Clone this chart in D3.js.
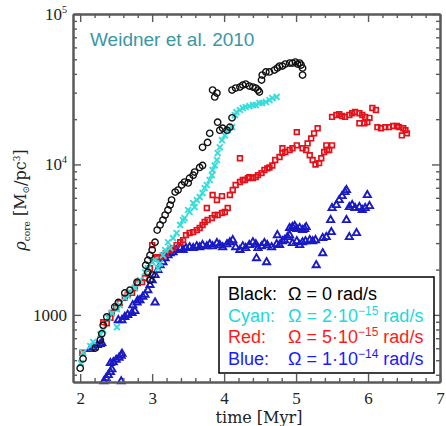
<!DOCTYPE html>
<html>
<head>
<meta charset="utf-8">
<script src="https://cdn.jsdelivr.net/npm/d3@7"></script>
<style>
  body { margin: 0; background: #fff; }
</style>
</head>
<body>
<div id="chart"></div>
<script>
// [time (Myr), rho_core (Msun/pc^3)]
const black = [
  [2.00,442],[2.04,511],[2.21,602],[2.28,680],[2.30,750],[2.32,854],[2.37,970],[2.48,1130],[2.53,1210],[2.62,1400],[2.69,1460],[2.79,1650],[2.94,1920],[2.97,1700],[3.00,1840],
  [2.91,2140],[2.94,2310],[2.97,2490],[3.00,2700],[3.04,3040],
  [3.07,3660],[3.11,3960],[3.15,4270],[3.18,4610],[3.22,4980],[3.25,5370],[3.27,5800],
  [3.32,6550],[3.36,6760],[3.41,7300],[3.45,7640],[3.50,7530],[3.52,8110],[3.57,8490],[3.59,8900],[3.66,9550],[3.70,9850],
  [3.70,13000],[3.77,14000],[3.80,16100],[3.91,19100],[3.94,16900],[3.98,17400],[4.04,16900],[4.08,17700],[4.11,20400],
  [3.84,31200],[3.87,28100],[3.90,29800],
  [4.11,31200],[4.16,32200],[4.22,32700],[4.26,33700],[4.30,34200],[4.35,33200],[4.40,32700],[4.44,32200],[4.47,31200],[4.49,30300],
  [4.52,36400],[4.53,39300],[4.58,41200],[4.63,41200],[4.70,42400],[4.74,43700],[4.77,45100],[4.81,45100],[4.85,46500],[4.91,47200],
  [4.95,47200],[4.99,47900],[5.02,46500],[5.05,47200],[5.07,45800],[5.09,43700],[5.09,39300]
]
const cyan = [
  [2.01,478],[2.04,560],[2.14,620],[2.18,660],[2.28,740],[2.32,792],[2.39,956],[2.44,1030],[2.51,828],[2.51,1090],[2.55,1160],
  [2.62,1300],[2.66,1340],[2.69,1420],[2.76,1510],[2.83,1700],[2.90,1920],[2.94,2040],[3.00,2240],[3.04,2310],[3.08,2040],[3.11,2200],
  [3.15,2490],[3.18,2700],[3.22,3040],[3.25,2780],[3.29,3240],[3.34,3500],[3.39,3960],[3.43,4270],[3.45,4400],[3.50,4980],[3.52,4830],
  [3.57,5540],[3.59,5210],[3.62,5800],[3.66,6070],[3.70,6450],[3.73,6970],[3.76,7300],[3.80,7880],[3.83,8490],[3.84,9180],[3.87,9850],
  [3.90,10700],[3.91,11900],[3.94,13000],[3.97,14500],[4.01,15600],[4.05,16900],[4.11,17700],
  [4.15,21300],[4.17,22300],[4.22,23000],[4.26,23700],[4.30,24100],[4.35,24400],[4.40,24800],[4.44,24800],[4.49,25600],[4.53,25600],
  [4.58,26000],[4.63,26800],[4.67,27600],[4.73,28100]
]
const red = [
  [2.03,560],[2.32,895],[2.37,880],[2.42,956],[2.44,1030],[2.50,1110],[2.55,1200],[2.62,1300],[2.66,1360],[2.72,1400],[2.76,1510],
  [2.80,1630],[2.86,1650],[2.90,1760],[2.94,1890],[2.97,2040],[3.00,2910],
  [3.04,2380],[3.07,2420],[3.11,2420],[3.15,2490],[3.19,2570],[3.25,2700],[3.29,2780],[3.34,2910],[3.39,3040],[3.43,3140],[3.47,3390],
  [3.52,3500],[3.57,3550],[3.62,3660],[3.66,3780],[3.70,3960],[3.73,4140],[3.77,4270],[3.83,4400],[3.87,4610],[3.91,4610],[3.97,4760],
  [4.01,4830],[4.05,5130],[3.76,5130],[3.84,6260],[3.90,5800],[3.97,6160],
  [4.08,6260],[4.12,6760],[4.16,7300],[4.22,7640],[4.22,11000],[4.26,7880],[4.29,7880],[4.33,8110],[4.35,8240],[4.40,8110],[4.44,8240],
  [4.47,8490],[4.52,8760],[4.56,9180],[4.60,9410],[4.63,9550],[4.67,9850],[4.71,10700],[4.77,11200],[4.81,11900],[4.81,12800],[4.85,12100],
  [4.91,12470],[4.95,12800],[5.01,13400],[5.01,16400],
  [5.09,12800],[5.14,12470],[5.19,11500],[5.23,10700],[5.27,10000],[5.32,10200],[5.35,11000],[5.39,12100],[5.43,12470],[5.46,12470],
  [5.42,13400],[5.50,13400],[5.16,13800],[5.21,14900],[5.25,16100],[5.30,17400],
  [5.50,20700],[5.56,21300],[5.60,21600],[5.64,21000],[5.68,20700],[5.74,21300],[5.78,21900],[5.82,22300],[5.88,21900],[5.92,21300],
  [5.96,20700],[6.02,20400],[5.88,18800],[5.95,18800],[5.99,19100],[6.06,23700],[6.11,23000],
  [6.13,17700],[6.18,17400],[6.24,17700],[6.29,17700],[6.35,18000],[6.40,18000],[6.43,17700],[6.49,17400],[6.52,16900],[6.54,16100],[6.47,15600]
]
const blue = [
  [2.33,362],[2.36,380],[2.39,398],[2.42,417],[2.44,435],[2.42,478],[2.46,485],[2.50,503],[2.54,519],[2.57,535],[2.58,552],[2.57,362],
  [2.14,593],[2.18,610],[2.24,630],[2.28,640],[2.30,650],
  [2.53,923],[2.58,923],[2.62,970],[2.66,1000],[2.72,1030],[2.76,1060],[2.80,1250],[2.73,1160],[2.79,1210],[2.83,1250],[2.87,1320],
  [2.90,1360],[2.94,1460],[2.97,1580],[3.00,1700],[3.04,1210],[3.04,1840],[3.08,1985],[3.11,2140],[3.15,2240],[3.18,2380],[3.22,2490],
  [3.25,2570],[3.29,2610],[3.34,2700],[3.39,2780],[3.43,2700],[3.47,2780],[3.52,2820],[3.57,2780],[3.62,2860],[3.66,2820],[3.70,2910],
  [3.76,2860],[3.80,2950],[3.84,2860],[3.90,3000],[3.94,2910],[3.98,2820],[4.04,2950],[4.08,3040],[4.12,3140],[4.16,2820],[4.22,2700],
  [4.26,2860],[4.30,2780],[4.35,2910],[4.40,3040],[4.44,2950],[4.47,2780],[4.52,2860],[4.56,3000],[4.60,2910],[4.66,2820],[4.45,2380],[4.59,2240],
  [4.73,2950],[4.77,2910],[4.81,3090],[4.84,3140],[4.88,3290],[4.91,3390],[4.74,3390],[4.91,3780],[4.95,3840],
  [4.98,3900],[5.01,3720],[5.05,3780],[5.09,3660],[5.12,3720],[5.14,3840],[4.95,3000],[5.01,3090],[5.05,2910],[5.09,3040],[5.13,3090],
  [5.19,3140],[5.23,3090],[5.27,3140],[5.28,2140],[5.37,2570],[5.37,3240],[5.42,3290],[5.49,3550],[5.48,4270],
  [5.50,5130],[5.56,5370],[5.60,5800],[5.64,6160],[5.68,6550],[5.70,6760],[5.70,4270],[5.74,3290],[5.84,3500],[5.74,5210],[5.78,5370],
  [5.82,5130],[5.88,5210],[5.92,4980],[5.96,5130],[6.02,5290],[5.99,6260]
]

const xTicks = [2, 3, 4, 5, 6, 7]
const yTicks = [1000, 10000, 100000]
const legendNames = ['Black:', 'Cyan:', 'Red:', 'Blue:']
const legendCoef = ['0', '2·10', '5·10', '1·10']
const legendExp = ['', '−15', '−15', '−14']
const title = 'Weidner et al. 2010'

function draw() {
  const dimensions = { width: 446, height: 426, left: 73, right: 440, top: 14, bottom: 382 }

  const svg = d3.select('#chart')
    .append('svg')
    .attr('width', dimensions.width)
    .attr('height', dimensions.height)

  const xScale = d3.scaleLinear().domain([1.9, 7.0]).range([dimensions.left, dimensions.right])
  const yScale = d3.scaleLog().domain([358, 1e5]).range([dimensions.bottom, dimensions.top])

  // minor ticks: 0.2 Myr steps, 2..9 per decade
  const xMinor = d3.range(20, 71, 2).map(v => v / 10).filter(v => v % 1 !== 0)
  const yMinor = []
  ;[100, 1000, 10000].forEach(dec => d3.range(2, 10).forEach(k => yMinor.push(k * dec)))
  const yMinorIn = yMinor.filter(v => v >= 358 && v <= 1e5)

  const frameColor = '#5a5a5a'
  function frameAxis(axisFn, scale, major, minor, transform) {
    svg.append('g').attr('transform', transform)
      .call(axisFn(scale).tickValues(minor).tickSize(-4).tickSizeOuter(0).tickFormat(''))
    return svg.append('g').attr('transform', transform)
      .call(axisFn(scale).tickValues(major).tickSize(-8).tickSizeOuter(0).tickFormat(d3.format('d')))
  }

  // points first, frame on top
  const seriesStyle = [
    { data: blue, type: d3.symbolTriangle, size: 22, color: '#1a1ac4', width: 1.9 },
    { data: red, type: d3.symbolSquare, size: 22, color: '#e3121a', width: 1.7 },
    { data: cyan, type: d3.symbolTimes || d3.symbolX, size: 24, color: '#36dcdc', width: 1.9 },
    { data: black, type: d3.symbolCircle, size: 32, color: '#111', width: 1.4 }
  ]
  const pts = svg.append('g')
  seriesStyle.forEach(s => {
    pts.append('g').selectAll('path')
      .data(s.data)
      .join('path')
      .attr('transform', d => `translate(${xScale(d[0])},${yScale(d[1])})`)
      .attr('d', d3.symbol().type(s.type).size(s.size))
      .attr('fill', 'none')
      .attr('stroke', s.color)
      .attr('stroke-width', s.width)
  })

  const gBottom = frameAxis(d3.axisBottom, xScale, xTicks, xMinor, `translate(0,${dimensions.bottom})`)
  gBottom.call(a => a.selectAll('.tick text').attr('y', 10))
  frameAxis(d3.axisTop, xScale, xTicks, xMinor, `translate(0,${dimensions.top})`)
    .selectAll('.tick text').remove()
  const gLeft = frameAxis(d3.axisLeft, yScale, yTicks, yMinorIn, `translate(${dimensions.left},0)`)
  frameAxis(d3.axisRight, yScale, yTicks, yMinorIn, `translate(${dimensions.right},0)`)
    .selectAll('.tick text').remove()

  svg.selectAll('.domain').attr('stroke', frameColor).attr('stroke-width', 2)
  svg.selectAll('.tick line').attr('stroke', frameColor).attr('stroke-width', 1.4)

  gBottom.selectAll('.tick text')
    .attr('font-family', 'Liberation Serif, serif')
    .attr('font-size', 17)
    .attr('fill', '#222')

  // y labels: 1000, 10^4, 10^5
  gLeft.selectAll('.tick text')
    .attr('x', -6)
    .attr('font-family', 'Liberation Serif, serif')
    .attr('font-size', 17)
    .attr('fill', '#222')
    .each(function (d) {
      const t = d3.select(this).text('')
      if (d < 5000) { t.text(d) ; return }
      t.append('tspan').text('10')
      t.append('tspan').attr('dy', -7).attr('font-size', 10).text(Math.round(Math.log10(d)))
    })

  // title
  svg.append('text')
    .attr('x', 90).attr('y', 46)
    .attr('font-family', 'Liberation Sans, Arial, sans-serif')
    .attr('font-size', 19)
    .attr('fill', '#3a97a6')
    .text(title)

  // axis titles
  svg.append('text')
    .attr('x', 259).attr('y', 423)
    .attr('text-anchor', 'middle')
    .attr('font-family', 'DejaVu Serif, serif')
    .attr('font-size', 16)
    .attr('fill', '#222')
    .text('time [Myr]')

  const yl = svg.append('text')
    .attr('transform', 'translate(26,200) rotate(-90)')
    .attr('text-anchor', 'middle')
    .attr('font-family', 'DejaVu Serif, serif')
    .attr('font-size', 16)
    .attr('fill', '#222')
  yl.append('tspan').attr('font-style', 'italic').text('ρ')
  yl.append('tspan').attr('font-size', 9).attr('dy', 4).text('core')
  yl.append('tspan').attr('dy', -4).text('  [M')
  yl.append('tspan').attr('font-size', 9).attr('dy', 3).text('⊙')
  yl.append('tspan').attr('dy', -3).text('/pc')
  yl.append('tspan').attr('font-size', 9).attr('dy', -6).text('3')
  yl.append('tspan').attr('dy', 6).text(']')

  // legend
  const legendColors = ['#000', '#22d8dc', '#ff1a1a', '#1a1aff']
  const lg = svg.append('g')
  lg.append('rect')
    .attr('x', 219).attr('y', 277).attr('width', 215).attr('height', 96)
    .attr('fill', '#fff').attr('stroke', '#000').attr('stroke-width', 1.5)
  legendNames.forEach((name, i) => {
    const y = 300 + i * 21.7
    lg.append('text')
      .attr('x', 228).attr('y', y)
      .attr('font-family', 'Liberation Sans, Arial, sans-serif')
      .attr('font-size', 18)
      .attr('fill', legendColors[i])
      .text(name)
    const t = lg.append('text')
      .attr('x', 288).attr('y', y)
      .attr('font-family', 'Liberation Sans, Arial, sans-serif')
      .attr('font-size', 18)
      .attr('fill', legendColors[i])
    t.append('tspan').text(`Ω = ${legendCoef[i]}`)
    if (legendExp[i]) {
      t.append('tspan').attr('font-size', 12).attr('dy', -7).text(legendExp[i])
      t.append('tspan').attr('dy', 7).text(' rad/s')
    } else {
      t.append('tspan').text(' rad/s')
    }
  })
}

draw()
</script>
</body>
</html>
